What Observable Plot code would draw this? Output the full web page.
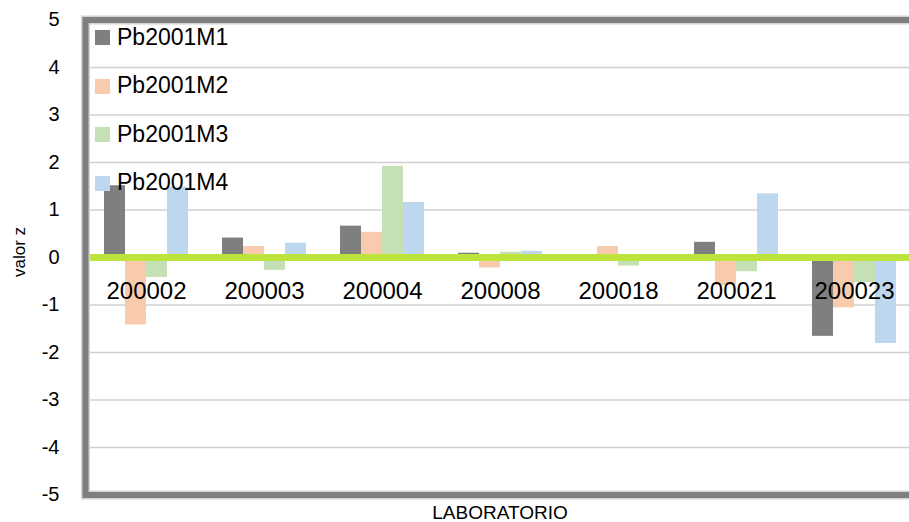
<!DOCTYPE html>
<html>
<head>
<meta charset="utf-8">
<script src="https://cdn.jsdelivr.net/npm/d3@7"></script>
<script src="https://cdn.jsdelivr.net/npm/@observablehq/plot@0.6"></script>
<style>
  html, body { margin: 0; padding: 0; background: #fff; }
  #wrap { position: relative; width: 909px; height: 522px; overflow: hidden; font-family: "Liberation Sans", Arial, sans-serif; color: #000; }
  .lg-sw { position: absolute; width: 15px; height: 15px; }
  .lg-tx { position: absolute; font-size: 23px; line-height: 23px; white-space: nowrap; }
  .ttl { position: absolute; white-space: nowrap; line-height: 1; }
</style>
</head>
<body>
<div id="wrap"></div>
<script>
const labs = ["200002", "200003", "200004", "200008", "200018", "200021", "200023"];
const series = ["Pb2001M1", "Pb2001M2", "Pb2001M3", "Pb2001M4"];
const M1 = [1.51, 0.41, 0.66, 0.09, 0, 0.32, -1.66];
const M2 = [-1.42, 0.23, 0.53, -0.22, 0.23, -0.59, -1.06];
const M3 = [-0.42, -0.27, 1.92, 0.11, -0.18, -0.30, -0.53];
const M4 = [1.48, 0.30, 1.16, 0.13, 0, 1.34, -1.81];
const yTicks = [-5, -4, -3, -2, -1, 0, 1, 2, 3, 4, 5];
const colors = ["#7f7f7f", "#f8cbad", "#c5e0b4", "#bdd7ee"];
const yTitle = "valor z";
const xTitle = "LABORATORIO";

const values = [M1, M2, M3, M4];
const rows = labs.flatMap((lab, i) => series.map((s, j) => ({lab, series: s, value: values[j][i]})));

const chart = Plot.plot({
  width: 909,
  height: 522,
  marginLeft: 86,
  marginRight: -5,
  marginTop: 19.5,
  marginBottom: 27.5,
  style: {fontFamily: "Liberation Sans, Arial, sans-serif", color: "#000", background: "#fff", overflow: "visible"},
  fx: {domain: labs, padding: 0, axis: null, label: null},
  x: {domain: series, paddingInner: 0, paddingOuter: 0.74, axis: null},
  y: {domain: [-5, 5], axis: null},
  color: {domain: series, range: colors},
  marks: [
    Plot.ruleY(yTicks, {stroke: "#d0d0d0", strokeWidth: 1.5}),
    Plot.barY(rows, {fx: "lab", x: "series", y: "value", fill: "series", inset: 0}),
    Plot.ruleY([0], {stroke: "#bde43c", strokeWidth: 7}),
    Plot.text(labs, {fx: d => d, y: () => 0, text: d => d, fontSize: 24, lineAnchor: "top", dy: 24, fill: "#000"}),
    Plot.frame({facet: "super", stroke: "#d4d4d4", strokeWidth: 9, insetLeft: -2}),
    Plot.frame({facet: "super", stroke: "#7f7f7f", strokeWidth: 6, insetLeft: -2}),
    Plot.axisY({ticks: yTicks, tickSize: 0, tickPadding: 28, fontSize: 20, label: null,
      tickFormat: d => String(d).replace("\u2212", "-"), fill: "#000"})
  ]
});

const wrap = document.getElementById("wrap");
wrap.appendChild(chart);

series.forEach((s, i) => {
  const sw = document.createElement("div");
  sw.className = "lg-sw";
  sw.style.left = "95px";
  sw.style.top = (30 + i * 48.5) + "px";
  sw.style.background = colors[i];
  wrap.appendChild(sw);
  const tx = document.createElement("div");
  tx.className = "lg-tx";
  tx.style.left = "117px";
  tx.style.top = (25.6 + i * 48.5) + "px";
  tx.textContent = s;
  wrap.appendChild(tx);
});

const yt = document.createElement("div");
yt.className = "ttl";
yt.textContent = yTitle;
yt.style.fontSize = "17px";
yt.style.left = "19px";
yt.style.top = "252px";
yt.style.transform = "translate(-50%, -50%) rotate(-90deg)";
wrap.appendChild(yt);

const xt = document.createElement("div");
xt.className = "ttl";
xt.textContent = xTitle;
xt.style.fontSize = "19px";
xt.style.left = "500px";
xt.style.top = "512px";
xt.style.transform = "translate(-50%, -50%)";
wrap.appendChild(xt);
</script>
</body>
</html>
